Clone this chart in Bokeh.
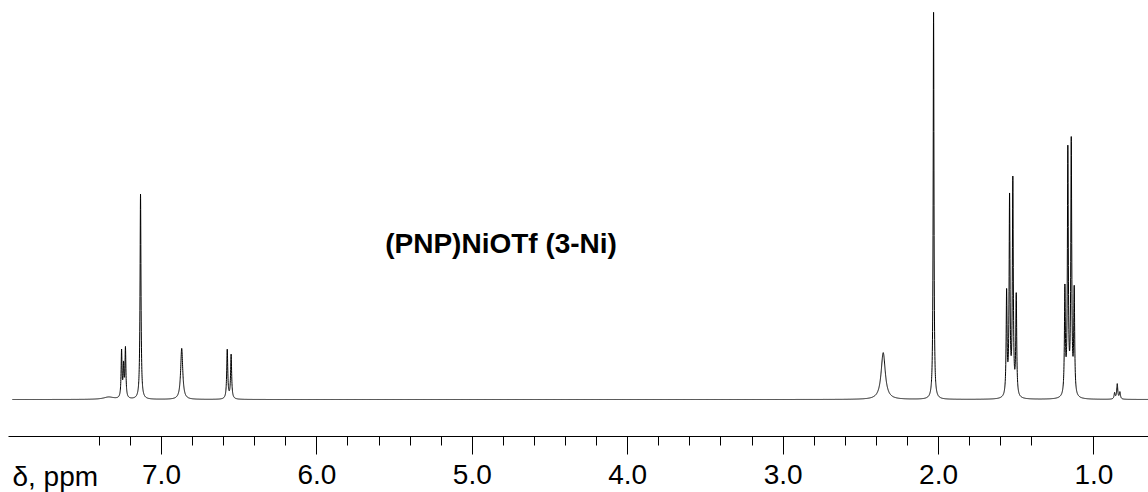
import numpy as np
from bokeh.plotting import figure
from bokeh.models import Range1d, FixedTicker, Label
from bokeh.embed import file_html
from bokeh.resources import INLINE

# 1H NMR peak list of (PNP)NiOTf: shift (ppm), relative height (tallest = 100), half width (ppm)
shift_ppm = [7.340, 7.257, 7.244, 7.232, 7.135, 6.870, 6.577, 6.552,
             2.356, 2.032,
             1.562, 1.543, 1.522, 1.500,
             1.187, 1.168, 1.146, 1.127,
             0.867, 0.850, 0.833]
height = [0.6, 12.1, 8.0, 12.7, 53.0, 13.2, 12.7, 11.4,
          12.1, 100.0,
          26.5, 50.8, 55.5, 25.8,
          27.2, 63.0, 65.3, 26.8,
          1.6, 3.9, 1.8]
half_width = [0.040, 0.0035, 0.0035, 0.0035, 0.0035, 0.008, 0.004, 0.004,
              0.016, 0.003,
              0.0035, 0.0035, 0.0035, 0.0035,
              0.0035, 0.0035, 0.0035, 0.0035,
              0.004, 0.004, 0.004]

major_ticks = [7.0, 6.0, 5.0, 4.0, 3.0, 2.0, 1.0]
minor_ticks = [7.4, 7.2, 6.8, 6.6, 6.4, 6.2, 5.8, 5.6, 5.4, 5.2, 4.8, 4.6, 4.4, 4.2,
               3.8, 3.6, 3.4, 3.2, 2.8, 2.6, 2.4, 2.2, 1.8, 1.6, 1.4]

title_text = "(PNP)NiOTf (3-Ni)"
axis_text = "δ, ppm"

# spectrum trace: sum of Lorentzian lines on a fine shift grid
ppm = np.arange(7.96, 0.60, -0.0005)
intensity = np.zeros_like(ppm)
for c, h, w in zip(shift_ppm, height, half_width):
    intensity += h / (1.0 + ((ppm - c) / w) ** 2)

p = figure(width=1148, height=492,
           x_range=Range1d(8.036, 0.649), y_range=Range1d(-24.03, 103.1),
           output_backend="svg", toolbar_location=None,
           min_border=0, outline_line_color=None, background_fill_color="white",
           border_fill_color="white", y_axis_location=None)
p.grid.visible = False

p.line(ppm, intensity, line_color="black", line_width=1)

# shift axis drawn inside the frame, below the baseline
ax = p.xaxis[0]
ax.fixed_location = -9.56
ax.ticker = FixedTicker(ticks=major_ticks, minor_ticks=minor_ticks)
ax.bounds = (0.649, 7.985)
ax.axis_line_color = "black"
ax.axis_line_width = 1
ax.major_tick_in = 0
ax.major_tick_out = 18
ax.minor_tick_in = 0
ax.minor_tick_out = 9
ax.major_tick_line_color = "black"
ax.minor_tick_line_color = "black"
ax.major_label_standoff = 10
ax.major_label_text_font = "Liberation Sans"
ax.major_label_text_font_size = "28px"
ax.major_label_text_color = "black"
ax.major_label_overrides = {t: f"{t:.1f}" for t in major_ticks}

p.add_layout(Label(x=7.959, y=-19.9, text=axis_text, text_align="left",
                   text_baseline="middle", text_font="Liberation Sans",
                   text_font_size="28px", text_color="black"))

p.add_layout(Label(x=4.815, y=40.2, text=title_text, text_align="center",
                   text_baseline="middle", text_font="Liberation Sans",
                   text_font_style="bold", text_font_size="28px", text_color="black"))

open("out.html", "w").write(file_html(p, INLINE))
